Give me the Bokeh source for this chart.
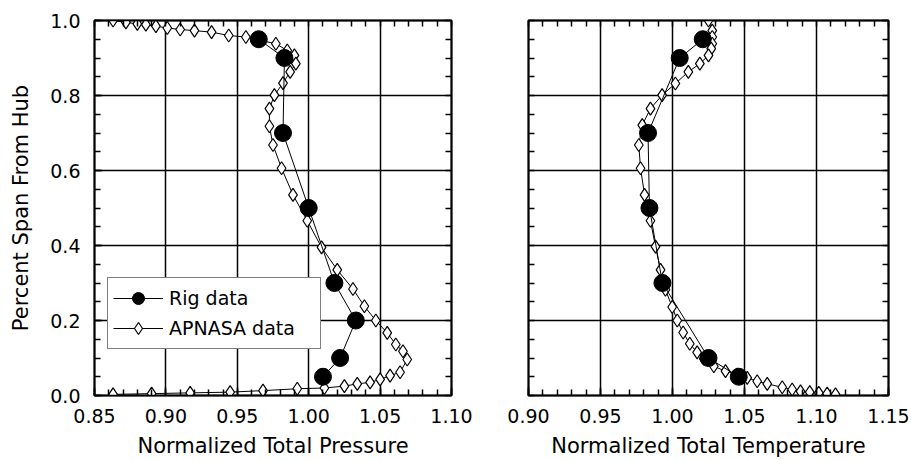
from bokeh.plotting import figure
from bokeh.layouts import row
from bokeh.models import (FixedTicker, PrintfTickFormatter, LinearAxis, Legend,
                          LegendItem, Range1d)
from bokeh.embed import file_html
from bokeh.resources import INLINE

FONT = "DejaVu Sans"

# ---------------- data ----------------
# Left panel: normalized total pressure
rig_p_x = [0.965, 0.983, 0.982, 1.000, 1.018, 1.033, 1.022, 1.010]
rig_p_y = [0.95, 0.90, 0.70, 0.50, 0.30, 0.20, 0.10, 0.05]

apnasa_p_x = [0.863, 0.872, 0.880, 0.886, 0.893, 0.901, 0.910, 0.920, 0.932, 0.944,
              0.956, 0.966, 0.977, 0.985, 0.990, 0.991, 0.987, 0.982, 0.976, 0.9725,
              0.9725, 0.975, 0.981, 0.989, 0.999, 1.009, 1.020, 1.031, 1.039, 1.047,
              1.055, 1.061, 1.066, 1.069, 1.064, 1.057, 1.050, 1.043, 1.034, 1.025,
              1.011, 0.992, 0.968, 0.945, 0.917, 0.890, 0.863]
apnasa_p_y = [1.000, 0.995, 0.991, 0.989, 0.985, 0.980, 0.976, 0.973, 0.969, 0.960,
              0.956, 0.947, 0.938, 0.920, 0.907, 0.885, 0.863, 0.833, 0.801, 0.765,
              0.718, 0.668, 0.606, 0.535, 0.466, 0.395, 0.335, 0.284, 0.238, 0.200,
              0.167, 0.136, 0.118, 0.096, 0.062, 0.053, 0.043, 0.035, 0.031, 0.025,
              0.020, 0.018, 0.013, 0.009, 0.007, 0.005, 0.003]

# Right panel: normalized total temperature
rig_t_x = [1.021, 1.005, 0.983, 0.984, 0.993, 1.025, 1.046]
rig_t_y = [0.95, 0.90, 0.70, 0.50, 0.30, 0.10, 0.05]

apnasa_t_x = [1.025, 1.0276, 1.0276, 1.0276, 1.0269, 1.025, 1.019, 1.011, 1.002, 0.9928,
              0.9847, 0.979, 0.9766, 0.9778, 0.9806, 0.9847, 0.9882, 0.9917, 0.9951, 0.9998,
              1.0033, 1.0074, 1.012, 1.0171, 1.0217, 1.0287, 1.0368, 1.0449, 1.0519, 1.0588,
              1.0658, 1.0762, 1.0831, 1.0889, 1.0953, 1.1016, 1.1074, 1.1132]
apnasa_t_y = [1.000, 0.973, 0.956, 0.938, 0.925, 0.907, 0.885, 0.863, 0.832, 0.801,
              0.765, 0.721, 0.668, 0.606, 0.535, 0.466, 0.397, 0.335, 0.282, 0.236,
              0.200, 0.168, 0.138, 0.115, 0.098, 0.078, 0.065, 0.056, 0.047, 0.038,
              0.031, 0.022, 0.016, 0.011, 0.009, 0.007, 0.005, 0.003]

p_major = [0.85, 0.90, 0.95, 1.00, 1.05, 1.10]
t_major = [0.90, 0.95, 1.00, 1.05, 1.10, 1.15]
y_major = [0.0, 0.2, 0.4, 0.6, 0.8, 1.0]

p_minor = [round(0.85 + 0.01 * i, 2) for i in range(26)]
t_minor = [round(0.90 + 0.01 * i, 2) for i in range(26)]
y_minor = [round(0.05 * i, 2) for i in range(21)]


def style_axis(ax):
    ax.axis_line_color = "black"
    ax.axis_line_width = 1.5
    ax.major_tick_in = 8
    ax.major_tick_out = 0
    ax.minor_tick_in = 6
    ax.minor_tick_out = 0
    ax.major_tick_line_color = "black"
    ax.minor_tick_line_color = "black"
    ax.major_tick_line_width = 1.5
    ax.minor_tick_line_width = 1.5
    ax.major_label_text_font = FONT
    ax.major_label_text_font_size = "19px"
    ax.major_label_text_color = "black"
    ax.axis_label_text_font = FONT
    ax.axis_label_text_font_size = "21px"
    ax.axis_label_text_font_style = "normal"
    ax.axis_label_text_color = "black"


def make_fig(width, border_left, border_right, xr, xmajor, xminor, xlabel, ylabel,
             show_ylabels):
    p = figure(width=width, height=460, x_range=Range1d(*xr), y_range=Range1d(0, 1),
               output_backend="svg", toolbar_location=None,
               min_border_left=border_left, min_border_right=border_right,
               min_border_top=20, min_border_bottom=64)
    p.background_fill_color = "white"
    p.border_fill_color = "white"
    p.outline_line_color = "black"
    p.outline_line_width = 2

    bx = p.below[0]
    bx.ticker = FixedTicker(ticks=xmajor, minor_ticks=xminor)
    bx.formatter = PrintfTickFormatter(format="%.2f")
    bx.axis_label = xlabel
    style_axis(bx)
    bx.major_label_standoff = 13
    bx.axis_label_standoff = 8

    ly = p.left[0]
    style_axis(ly)
    if show_ylabels:
        ly.ticker = FixedTicker(ticks=y_major, minor_ticks=y_minor)
        ly.formatter = PrintfTickFormatter(format="%.1f")
        ly.axis_label = ylabel
        ly.major_label_standoff = 14
        ly.axis_label_standoff = 14
    else:
        ly.ticker = FixedTicker(ticks=[], minor_ticks=y_minor)

    # mirrored tick marks on top and right (no numbers)
    top = LinearAxis(ticker=FixedTicker(ticks=[], minor_ticks=xminor))
    right = LinearAxis(ticker=FixedTicker(ticks=[], minor_ticks=y_minor))
    style_axis(top)
    style_axis(right)
    p.add_layout(top, "above")
    p.add_layout(right, "right")

    p.xgrid.grid_line_color = "black"
    p.ygrid.grid_line_color = "black"
    p.xgrid.grid_line_width = 1.5
    p.ygrid.grid_line_width = 1.5
    p.xgrid.ticker = FixedTicker(ticks=xmajor)
    p.ygrid.ticker = FixedTicker(ticks=y_major)
    return p


def add_series(p, rx, ry, ax_, ay_):
    l1 = p.line(ax_, ay_, line_color="black", line_width=1)
    s1 = p.scatter(ax_, ay_, marker="diamond", size=13,
                   fill_color="white", line_color="black", line_width=1.2)
    l2 = p.line(rx, ry, line_color="black", line_width=1)
    s2 = p.scatter(rx, ry, marker="circle", size=17, fill_color="black",
                   line_color="black")
    return [l2, s2], [l1, s1]


p1 = make_fig(500, 94, 49, (0.85, 1.10), p_major, p_minor,
              "Normalized Total Pressure", "Percent Span From Hub", True)
rig_r, ap_r = add_series(p1, rig_p_x, rig_p_y, apnasa_p_x, apnasa_p_y)

legend = Legend(items=[LegendItem(label="Rig data", renderers=rig_r),
                       LegendItem(label="APNASA data", renderers=ap_r)],
                location=(13, 46))
legend.label_text_font = FONT
legend.label_text_font_size = "19px"
legend.label_text_color = "black"
legend.glyph_width = 50
legend.glyph_height = 30
legend.label_height = 30
legend.label_width = 146
legend.label_standoff = 6
legend.padding = 5
legend.spacing = 0
legend.margin = 0
legend.border_line_color = "black"
legend.border_line_width = 1.5
legend.background_fill_color = "white"
legend.background_fill_alpha = 1.0
p1.add_layout(legend)

p2 = make_fig(411, 28, 23, (0.90, 1.15), t_major, t_minor,
              "Normalized Total Temperature", "", False)
add_series(p2, rig_t_x, rig_t_y, apnasa_t_x, apnasa_t_y)

layout = row(p1, p2)
open("out.html", "w").write(file_html(layout, INLINE))
